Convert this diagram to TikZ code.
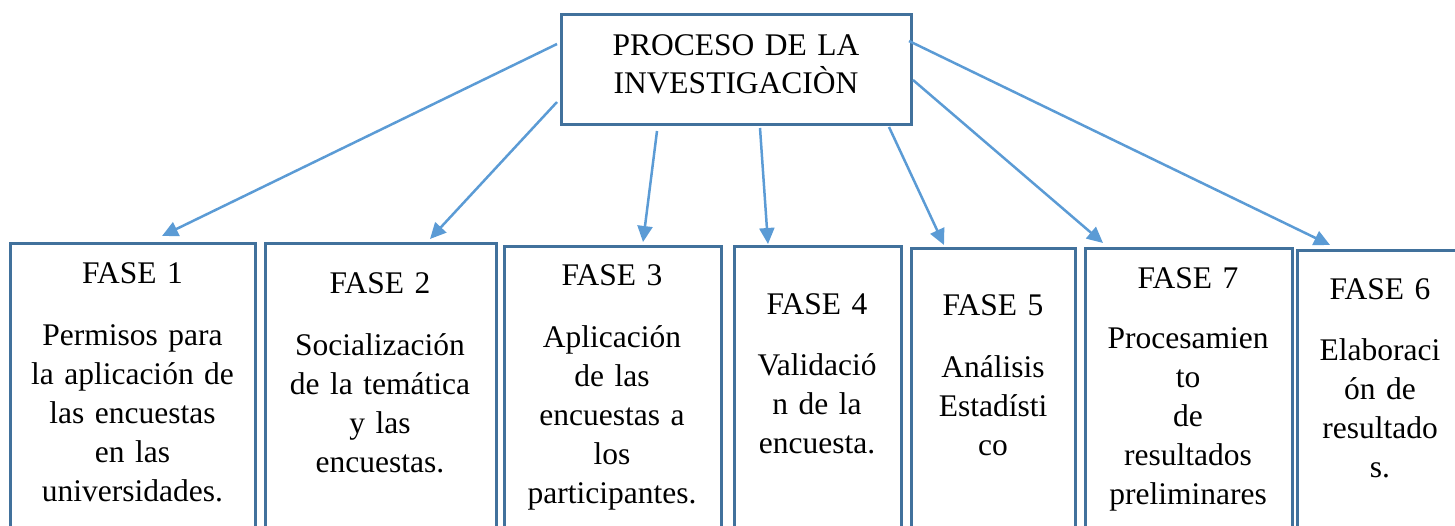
\documentclass[tikz,border=0pt]{standalone}
\usepackage{fontspec}
\setmainfont{Liberation Serif}
\usetikzlibrary{calc,arrows.meta}
\definecolor{boxc}{HTML}{41719C}
\definecolor{arrc}{HTML}{5B9BD5}
\tikzset{
  bx/.style={draw=boxc, line width=1.5pt, rectangle, inner sep=0pt, outer sep=0pt, anchor=north west, minimum height=200pt},
  txt/.style={text width=160pt, align=center, anchor=base, inner sep=0pt, font=\fontsize{15.75}{19.5}\selectfont},
  arr/.style={draw=arrc, line width=1.25pt, -{Triangle[length=8pt,width=7.5pt]}}
}
\begin{document}
\begin{tikzpicture}[x=0.5pt,y=-0.5pt]
\useasboundingbox (0,0) rectangle (1455,525);
\clip (0,0) rectangle (1455,525);
% top box
\node[bx, minimum width=175pt, minimum height=55pt] (top) at (561,14) {};
\node[txt, text width=170pt] (tt) at (736,55) {PROCESO DE LA\\[-0.5pt]INVESTIGACIÒN};
% phase boxes
\node[bx, minimum width=122.5pt] (b1) at (10,243) {};
\node[bx, minimum width=115.5pt] (b2) at (265,243) {};
\node[bx, minimum width=108.5pt] (b3) at (504,246) {};
\node[bx, minimum width=83.5pt] (b4) at (734,246) {};
\node[bx, minimum width=82pt] (b5) at (911,248) {};
\node[bx, minimum width=103.5pt] (b7) at (1085,248) {};
\node[bx, minimum width=100pt] (b6) at (1297,250) {};
% texts
\node[txt] (t1) at (132.5,283) {FASE 1\\[11.5pt]Permisos para\\la aplicación de\\las encuestas\\en las\\universidades.};
\node[txt] (t2) at (380,293) {FASE 2\\[11.5pt]Socialización\\de la temática\\y las\\encuestas.};
\node[txt] (t3) at (612,285) {FASE 3\\[11.5pt]Aplicación\\de las\\encuestas a\\los\\participantes.};
\node[txt] (t4) at (817,314) {FASE 4\\[11pt]Validació\\n de la\\encuesta.};
\node[txt] (t5) at (993,315) {FASE 5\\[11.5pt]Análisis\\Estadísti\\co};
\node[txt] (t7) at (1188,288) {FASE 7\\[10.5pt]Procesamien\\to\\de\\resultados\\preliminares};
\node[txt] (t6) at (1380,299) {FASE 6\\[11pt]Elaboraci\\ón de\\resultado\\s.};
% connector end points
\coordinate (s1) at ($(top.north west)+(-4,30)$);
\coordinate (s2) at ($(top.north west)+(-4,88)$);
\coordinate (s3) at ($(top.south west)+(96,7)$);
\coordinate (s4) at ($(top.south west)+(199,4)$);
\coordinate (s5) at ($(top.south east)+(-22,3)$);
\coordinate (s6) at ($(top.north east)+(2,66)$);
\coordinate (s7) at ($(top.north east)+(-2,27)$);
\coordinate (e1) at ($(b1.north west)+(152,-7)$);
\coordinate (e2) at ($(b2.north west)+(165,-4)$);
\coordinate (e3) at ($(b3.north west)+(139,-4)$);
\coordinate (e4) at ($(b4.north west)+(34,-2)$);
\coordinate (e5) at ($(b5.north west)+(33,-3)$);
\coordinate (e6) at ($(b7.north west)+(18,-5)$);
\coordinate (e7) at ($(b6.north west)+(33,-5)$);
\draw[arr] (s1) -- (e1);
\draw[arr] (s2) -- (e2);
\draw[arr] (s3) -- (e3);
\draw[arr] (s4) -- (e4);
\draw[arr] (s5) -- (e5);
\draw[arr] (s6) -- (e6);
\draw[arr] (s7) -- (e7);
\end{tikzpicture}
\end{document}
